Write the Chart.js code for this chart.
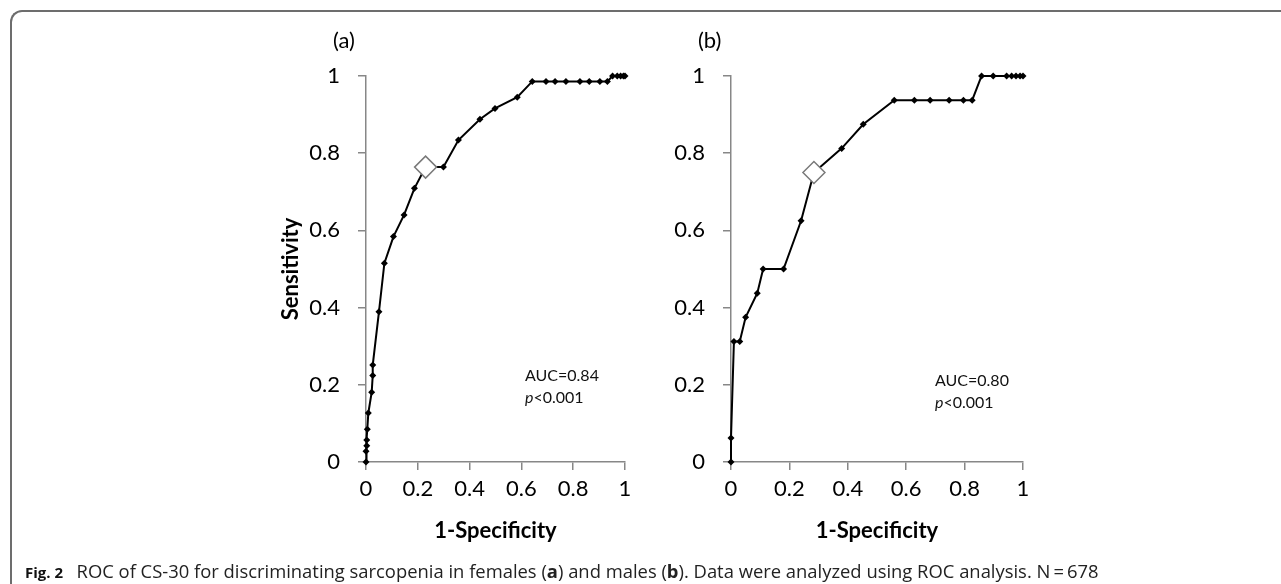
<!DOCTYPE html>
<html><head><meta charset="utf-8">
<script src="https://cdn.jsdelivr.net/npm/chart.js@4/dist/chart.umd.min.js"></script>
<style>
html,body{margin:0;padding:0;background:#fff;width:1281px;height:584px;overflow:hidden;}
#frame{position:absolute;left:10px;top:10px;width:1300px;height:600px;border-top:2px solid #6d6d6d;border-left:2px solid #6d6d6d;border-top-left-radius:12px;box-sizing:border-box;}
.cw{position:absolute;top:0;height:584px;}
.lbl{position:absolute;font-family:Lato,sans-serif;font-size:22px;color:#000;line-height:26px;}
.auc{position:absolute;font-family:Lato,sans-serif;font-size:16px;line-height:22px;color:#111;white-space:nowrap;}
#cap{position:absolute;left:25px;top:560px;font-family:'Open Sans',sans-serif;font-size:18.4px;line-height:22px;color:#222;white-space:nowrap;}
#cap b.f{font-size:15px;color:#111;margin-right:13.5px;}
</style></head>
<body>
<div id="frame"></div>
<div class="cw" style="left:250px;width:395px;"><canvas id="ca" width="395" height="584"></canvas></div>
<div class="cw" style="left:660px;width:383px;"><canvas id="cb" width="383" height="584"></canvas></div>
<div class="lbl" style="left:333px;top:27px;">(a)</div>
<div class="lbl" style="left:698px;top:27px;">(b)</div>
<div class="auc" style="left:525px;top:364px;">AUC=0.84<br><i>p</i>&lt;0.001</div>
<div class="auc" style="left:935px;top:369px;">AUC=0.80<br><i>p</i>&lt;0.001</div>
<div id="cap"><b class="f">Fig. 2</b>ROC of CS-30 for discriminating sarcopenia in females (<b>a</b>) and males (<b>b</b>). Data were analyzed using ROC analysis. N&thinsp;=&thinsp;678</div>
<script>
// Panel (a) females
const femaleFPR = [0,0,0.003,0.003,0.005,0.009,0.022,0.026,0.026,0.05,0.071,0.106,0.147,0.187,0.230,0.299,0.357,0.440,0.498,0.584,0.642,0.695,0.730,0.772,0.826,0.862,0.903,0.932,0.952,0.970,0.983,0.994,1];
const femaleTPR = [0,0.028,0.042,0.057,0.085,0.127,0.181,0.224,0.251,0.389,0.515,0.584,0.640,0.709,0.764,0.764,0.834,0.888,0.916,0.945,0.986,0.986,0.986,0.986,0.986,0.986,0.986,0.986,1,1,1,1,1];
const femaleCut = [0.230, 0.764];
// Panel (b) males
const maleFPR = [0,0,0.01,0.03,0.05,0.09,0.11,0.18,0.24,0.284,0.379,0.453,0.559,0.628,0.682,0.747,0.796,0.826,0.858,0.898,0.944,0.961,0.976,0.990,1];
const maleTPR = [0,0.0625,0.3125,0.3125,0.375,0.4375,0.5,0.5,0.625,0.75,0.8125,0.875,0.9375,0.9375,0.9375,0.9375,0.9375,0.9375,1,1,1,1,1,1,1];
const maleCut = [0.284, 0.75];
const tickValues = [0,0.2,0.4,0.6,0.8,1];
const tickLabels = ['0','0.2','0.4','0.6','0.8','1'];

const AX = '#878787';
function fmt(v){ const i = tickValues.findIndex(t=>Math.abs(t-v)<1e-6); return i>=0?tickLabels[i]:''; }

function make(id, xs, ys, cut, opt){
  const pts = xs.map((x,i)=>({x:x,y:ys[i]}));
  new Chart(document.getElementById(id), {
    type:'scatter',
    data:{datasets:[
      {data:[{x:cut[0],y:cut[1]}], pointStyle:'rectRot', pointRadius:11, pointBackgroundColor:'#fff', pointBorderColor:'#7a7a7a', pointBorderWidth:1.5, showLine:false, order:0, clip:false},
      {data:pts, showLine:true, borderColor:'#000', borderWidth:2, tension:0, pointStyle:'rectRot', pointRadius:3.5, pointBackgroundColor:'#000', pointBorderColor:'#000', pointBorderWidth:0, order:1, clip:false}
    ]},
    options:{
      responsive:false, animation:false,
      layout:{padding:{left:opt.padL, top:76, right:20, bottom:40}},
      plugins:{legend:{display:false}, tooltip:{enabled:false}},
      scales:{
        x:{type:'linear', min:0, max:1,
          afterBuildTicks:s=>{s.ticks=tickValues.map(v=>({value:v}));},
          afterFit:s=>{s.height=82;},
          grid:{display:true, drawOnChartArea:false, drawTicks:true, tickLength:8, color:AX, lineWidth:1.5},
          border:{display:true, color:AX, width:1.5},
          ticks:{callback:v=>fmt(v), color:'#000', font:{family:'Lato', size:22}, padding:6, maxRotation:0, autoSkip:false},
          title:{display:true, text:'1-Specificity', color:'#000', font:{family:'Lato', size:22, weight:'bold'}, padding:0}
        },
        y:{type:'linear', min:0, max:1,
          afterBuildTicks:s=>{s.ticks=tickValues.map(v=>({value:v}));},
          afterFit:s=>{s.width=opt.yW;},
          grid:{display:true, drawOnChartArea:false, drawTicks:true, tickLength:8, color:AX, lineWidth:1.5},
          border:{display:true, color:AX, width:1.5},
          ticks:{callback:v=>fmt(v), color:'#000', font:{family:'Lato', size:22}, padding:18, autoSkip:false},
          title:{display:opt.yTitle, text:'Sensitivity', color:'#000', font:{family:'Lato', size:22, weight:'bold'}, padding:0}
        }
      }
    }
  });
}
make('ca', femaleFPR, femaleTPR, femaleCut, {padL:28, yW:88, yTitle:true});
make('cb', maleFPR, maleTPR, maleCut, {padL:0, yW:71, yTitle:false});
</script>
</body></html>
